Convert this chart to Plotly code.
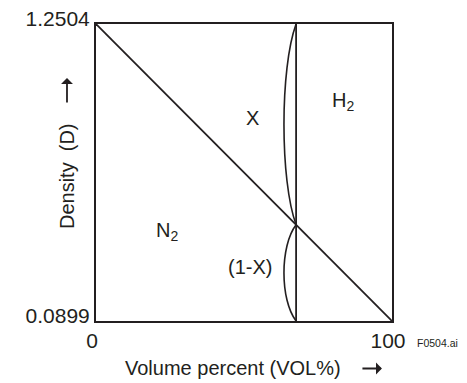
import plotly.graph_objects as go

# Data
vol_percent = [0, 100]            # volume percent of H2
density = [1.2504, 0.0899]        # density of N2 (0%) and H2 (100%)
x_mix = 67.6                      # mixture composition (vol% H2)
tick_vals_x = [0, 100]
tick_text_x = ["0", "100"]
tick_vals_y = [0.0899, 1.2504]
tick_text_y = ["0.0899", "1.2504"]

INK = "#231f20"
FONT = "Liberation Sans, Arial, Helvetica, sans-serif"

y_top, y_bot = max(density), min(density)
y_mix = density[0] + (density[1] - density[0]) * (x_mix - vol_percent[0]) / (vol_percent[1] - vol_percent[0])

fig = go.Figure()
fig.add_trace(go.Scatter(x=vol_percent, y=density, mode="lines",
                         line=dict(color=INK, width=1.8), hoverinfo="skip",
                         showlegend=False))
fig.add_trace(go.Scatter(x=[x_mix, x_mix], y=[y_bot, y_top], mode="lines",
                         line=dict(color=INK, width=1.8), hoverinfo="skip",
                         showlegend=False))

def lens(x, ya, yb, w):
    k = 4.0 / 3.0 * w
    h = yb - ya
    return (f"M {x},{ya} C {x - k},{ya + 0.22 * h} {x - k},{yb - 0.22 * h} {x},{yb}")

w = 4.1
fig.add_shape(type="path", path=lens(x_mix, y_top, y_mix, w), xref="x", yref="y",
              line=dict(color=INK, width=1.6))
fig.add_shape(type="path", path=lens(x_mix, y_mix, y_bot, w), xref="x", yref="y",
              line=dict(color=INK, width=1.6))

txt = dict(family=FONT, size=20, color=INK)
fig.add_annotation(x=53, y=0.884, text="X", showarrow=False, font=txt)
fig.add_annotation(x=83.4, y=0.947, text="H<sub>2</sub>", showarrow=False, font=txt)
fig.add_annotation(x=24, y=0.438, text="N<sub>2</sub>", showarrow=False, font=txt)
fig.add_annotation(x=52, y=0.301, text="(1-X)", showarrow=False, font=txt)

# axis titles
fig.add_annotation(xref="paper", yref="paper", x=0.463, y=-0.158, xanchor="center",
                   yanchor="middle", text="Volume percent (VOL%)", showarrow=False,
                   font=dict(family=FONT, size=20, color=INK))
fig.add_annotation(xref="paper", yref="paper", x=0.966, y=-0.16, ax=-21, ay=0,
                   text="", showarrow=True, arrowhead=1, arrowsize=1.1,
                   arrowwidth=1.8, arrowcolor=INK)
fig.add_annotation(xref="paper", yref="paper", x=-0.098, y=0.488, xanchor="center",
                   yanchor="middle", textangle=-90, text="Density  (D)", showarrow=False,
                   font=dict(family=FONT, size=20, color=INK))
fig.add_annotation(xref="paper", yref="paper", x=-0.098, y=0.818, ax=0, ay=26,
                   text="", showarrow=True, arrowhead=1, arrowsize=1.1,
                   arrowwidth=1.8, arrowcolor=INK)
fig.add_annotation(xref="paper", yref="paper", x=1.078, y=-0.074, xanchor="left",
                   yanchor="middle", text="F0504.ai", showarrow=False,
                   font=dict(family=FONT, size=10.5, color=INK))

axis_common = dict(showgrid=False, zeroline=False, showline=True, mirror=True,
                   linecolor=INK, linewidth=2, ticks="", automargin=False,
                   ticklabeloverflow="allow",
                   tickfont=dict(family=FONT, size=21, color=INK))
fig.update_xaxes(range=[0, 100], tickvals=tick_vals_x, ticktext=tick_text_x,
                 ticklabelshift=-4, **axis_common)
fig.update_yaxes(range=[y_bot, y_top], tickvals=tick_vals_y, ticktext=tick_text_y,
                 ticklabelshift=-5, **axis_common)

fig.update_layout(width=459, height=375, margin=dict(l=88, r=75, t=16, b=62),
                  paper_bgcolor="white", plot_bgcolor="white")

fig.write_html("out.html")
